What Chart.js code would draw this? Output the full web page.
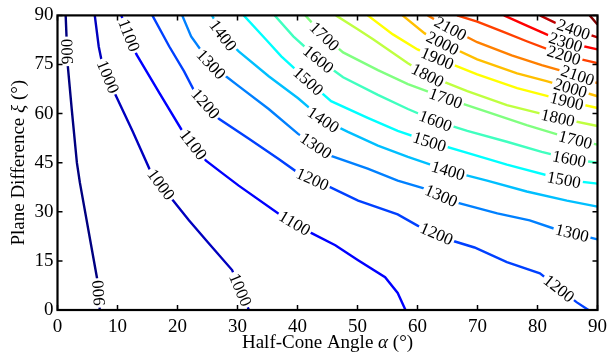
<!DOCTYPE html>
<html>
<head>
<meta charset="utf-8">
<script src="https://cdn.jsdelivr.net/npm/chart.js@4.4.1/dist/chart.umd.min.js"></script>
<style>
  html,body{margin:0;padding:0;background:#fff;}
  #wrap{width:613px;height:355px;}
</style>
</head>
<body>
<div id="wrap"><canvas id="c" width="613" height="355"></canvas></div>
<script>
// ==== DATA: contour lines as [half-cone angle, plane difference] in degrees ====
const xTicks = [0,10,20,30,40,50,60,70,80,90];
const yTicks = [0,15,30,45,60,75,90];

const c900  = [[1.36,90],[1.69,75.1],[2.4,60.8],[3.23,45],[3.73,38.9],[6.71,8.5],[7.04,0]];
const c1000 = [[6.21,90],[6.87,80.5],[7.37,76],[9.52,66.3],[12.5,54.7],[15.3,43.2],[18.6,35],[21.9,27.4],[25.2,20.4],[29.1,12.2],[31.9,0]];
const c1100 = [[10.63,90],[13.16,78.1],[16.97,66.3],[20.6,55.3],[24.75,45.6],[27.4,41.9],[30.2,38],[36.8,29.5],[42.1,23.7],[46.3,19.8],[50.1,15.2],[54.6,10],[56.7,5.2],[58,0]];
const c1200 = [[15.81,90],[18.63,80.5],[21.1,72.9],[22.8,66.9],[26.9,58.4],[31.9,52.3],[36.8,46.2],[40.1,41.9],[45.6,37.4],[50.1,33.4],[56.7,29.2],[60,25.8],[66.1,21],[69.5,19.1],[74.9,14.6],[80.4,11.2],[86.5,2.4],[88.5,0]];
const c1300 = [[20.78,90],[22.27,83.6],[25.58,75.1],[28.06,71.4],[30.2,68.4],[35.2,61.4],[40.1,53.8],[45.6,47.1],[51.7,43.2],[56.7,39.5],[61.2,37.1],[66.6,32.8],[73.3,29.5],[78.7,27.4],[82.7,24.9],[90,21.6]];
const c1400 = [[25.75,90],[27.57,83.9],[30.2,79],[35.2,71.4],[40.1,64.7],[44.3,58.1],[48.4,54.4],[53.4,50.2],[58.4,46.8],[65.1,42.6],[71.6,39.5],[78.2,36.2],[84.9,33.4],[90,31.6]];
const c1500 = [[31.04,90],[34.7,82.7],[37.3,77.5],[41.8,69.9],[45.6,63.8],[51.7,58.7],[56.7,54.7],[62,51.4],[68.3,48],[74.9,44.4],[84.4,39.8],[90,38.6]];
const c1600 = [[36.2,90],[39.3,83.6],[43.5,76.6],[47.6,71.1],[53.4,65.7],[58.4,61.4],[63,57.8],[68.3,54.7],[74.9,51.4],[80.7,48.3],[85.3,46.2],[90,45]];
const c1700 = [[41.3,90],[44.5,83.6],[47.6,78.7],[53.4,73.3],[58.4,69],[64.7,64.7],[71.6,60.5],[78.2,56.5],[86.3,52],[90,50.5]];
const c1800 = [[46.4,90],[50.1,85.7],[52.6,82.7],[58.4,75.4],[61.7,71.7],[68.3,66.9],[74.9,62.6],[83.4,58.7],[90,56.2]];
const c1900 = [[51.7,90],[55.9,84.2],[60,79.6],[63.3,76.9],[69.95,72],[76.6,67.8],[84.9,63.8],[90,61.7]];
const c2000 = [[57.5,90],[61.2,84.5],[64.2,81.5],[69.95,76.6],[76.6,72.3],[81.5,69.9],[85.5,67.8],[90,65.3]];
const c2100 = [[61.7,90],[65.5,86],[69.95,81.8],[75.7,77.8],[80.7,74.8],[86.7,71.7],[90,69.3]];
const c2200 = [[66.6,90],[69.95,88.1],[74.1,85.1],[78.2,82.1],[84.4,77.8],[90,75.4]];
const c2300 = [[74.4,90],[78.2,86.9],[81.5,84.2],[84.7,81.8],[90,79.6]];
const c2400 = [[80.4,90],[82.9,87.8],[86,85.7],[90,83.3]];
const c2500 = [[88.7,90],[90,87.2]];

// contour label anchors: [level, alpha, xi]
const contourLabels = [
  [900,1.57,79],[900,6.79,5.2],
  [1000,8.2,71.1],[1000,17.0,38.0],[1000,30.4,6.1],
  [1100,11.5,83.6],[1100,22.4,50.2],[1100,39.3,25.8],
  [1200,24.6,62.9],[1200,42.3,39.2],[1200,63.0,22.5],[1200,83.5,6.4],
  [1300,25.6,75.1],[1300,42.8,49.5],[1300,63.8,34.3],[1300,85.7,23.1],
  [1400,27.6,83.9],[1400,44.3,58.1],[1400,65.1,42.6],
  [1500,41.8,69.9],[1500,62.0,51.4],[1500,84.4,39.8],
  [1600,43.5,76.6],[1600,63.0,57.8],[1600,85.3,46.2],
  [1700,44.5,83.6],[1700,64.7,64.7],[1700,86.3,52.0],
  [1800,61.7,71.7],[1800,83.4,58.7],
  [1900,63.3,76.9],[1900,84.9,63.8],
  [2000,64.2,81.5],[2000,85.5,67.8],
  [2100,65.5,86.0],[2100,86.7,71.7],
  [2200,84.4,77.8],[2300,84.7,81.8],[2400,86.0,85.7]
];

const lines = {900:c900,1000:c1000,1100:c1100,1200:c1200,1300:c1300,1400:c1400,1500:c1500,1600:c1600,
  1700:c1700,1800:c1800,1900:c1900,2000:c2000,2100:c2100,2200:c2200,2300:c2300,2400:c2400,2500:c2500};

// jet colormap over the level range
function jet(v){
  const t = (v-900)/1600;
  const f = a => Math.round(255*Math.max(0, Math.min(1, 1.5-Math.abs(4*t-a))));
  return `rgb(${f(3)},${f(2)},${f(1)})`;
}

const SERIF = '"Liberation Serif","Times New Roman",serif';

// ==== contour labels (inline, rotated along the line) ====
const labelPlugin = {
  id:'clabels',
  afterDatasetsDraw(chart){
    const {ctx, scales:{x,y}} = chart;
    ctx.save();
    ctx.font = `17px ${SERIF}`;
    ctx.textAlign = 'center'; ctx.textBaseline = 'middle';
    contourLabels.forEach(([lev,lx,ly])=>{
      const pts = lines[lev].map(p=>[x.getPixelForValue(p[0]), y.getPixelForValue(p[1])]);
      const px = x.getPixelForValue(lx), py = y.getPixelForValue(ly);
      const cum=[0];
      for(let i=1;i<pts.length;i++) cum.push(cum[i-1]+Math.hypot(pts[i][0]-pts[i-1][0], pts[i][1]-pts[i-1][1]));
      let best=Infinity, bs=0, bp=pts[0];
      for(let i=0;i<pts.length-1;i++){
        const [ax,ay]=pts[i],[bx,by]=pts[i+1];
        const dx=bx-ax, dy=by-ay, L2=dx*dx+dy*dy;
        let t = L2 ? ((px-ax)*dx+(py-ay)*dy)/L2 : 0;
        t = Math.max(0,Math.min(1,t));
        const qx=ax+t*dx, qy=ay+t*dy, d=Math.hypot(px-qx,py-qy);
        if(d<best){ best=d; bs=cum[i]+t*Math.sqrt(L2); bp=[qx,qy]; }
      }
      const total = cum[cum.length-1];
      const at = s=>{
        s=Math.max(0,Math.min(total,s));
        for(let i=0;i<pts.length-1;i++){
          if(s<=cum[i+1]){
            const seg=cum[i+1]-cum[i]||1, t=(s-cum[i])/seg;
            return [pts[i][0]+t*(pts[i+1][0]-pts[i][0]), pts[i][1]+t*(pts[i+1][1]-pts[i][1])];
          }
        }
        return pts[pts.length-1];
      };
      const a=at(bs-12), b=at(bs+12);
      let ang = Math.atan2(b[1]-a[1], b[0]-a[0])*180/Math.PI;
      if(ang>90) ang-=180;
      if(ang<=-90) ang+=180;
      if(ang>75) ang-=180;
      const txt=String(lev), w=ctx.measureText(txt).width;
      ctx.save();
      ctx.translate(bp[0],bp[1]);
      ctx.rotate(ang*Math.PI/180);
      ctx.fillStyle='#fff';
      ctx.fillRect(-w/2-2,-5,w+4,10);
      ctx.fillStyle='#000';
      ctx.fillText(txt,0,1);
      ctx.restore();
    });
    ctx.restore();
  }
};

// ==== frame, inward ticks, axis titles ====
const framePlugin = {
  id:'frame',
  afterDraw(chart){
    const {ctx, chartArea:ca, scales:{x,y}} = chart;
    ctx.save();
    ctx.strokeStyle='#000'; ctx.lineWidth=1.5;
    ctx.beginPath();
    xTicks.forEach(v=>{
      const p=x.getPixelForValue(v);
      ctx.moveTo(p,ca.bottom); ctx.lineTo(p,ca.bottom-5);
      ctx.moveTo(p,ca.top); ctx.lineTo(p,ca.top+5);
    });
    yTicks.forEach(v=>{
      const p=y.getPixelForValue(v);
      ctx.moveTo(ca.left,p); ctx.lineTo(ca.left+5,p);
      ctx.moveTo(ca.right,p); ctx.lineTo(ca.right-5,p);
    });
    ctx.stroke();
    ctx.lineWidth=2.2;
    ctx.strokeRect(ca.left,ca.top,ca.right-ca.left,ca.bottom-ca.top);

    // titles with italic greek letters
    const drawParts=(parts,cx,cy)=>{
      let w=0;
      parts.forEach(p=>{ ctx.font=(p[1]?'italic ':'')+`19px ${SERIF}`; w+=ctx.measureText(p[0]).width; });
      let xx=cx-w/2;
      ctx.textAlign='left'; ctx.textBaseline='middle'; ctx.fillStyle='#000';
      parts.forEach(p=>{ ctx.font=(p[1]?'italic ':'')+`19px ${SERIF}`; ctx.fillText(p[0],xx,cy); xx+=ctx.measureText(p[0]).width; });
    };
    drawParts([['Half-Cone Angle ',0],['α',1],[' (°)',0]], (ca.left+ca.right)/2, 343);
    ctx.save();
    ctx.translate(19,(ca.top+ca.bottom)/2);
    ctx.rotate(-Math.PI/2);
    drawParts([['Plane Difference ',0],['ξ',1],[' (°)',0]], 0, 0);
    ctx.restore();
    ctx.restore();
  }
};

const datasets = Object.keys(lines).map(k=>({
  label:String(k),
  data: lines[k].map(p=>({x:p[0],y:p[1]})),
  showLine:true,
  borderColor: jet(+k),
  borderWidth: 2.4,
  pointRadius: 0,
  tension: 0,
  fill:false
}));

new Chart(document.getElementById('c'), {
  type:'scatter',
  data:{datasets},
  options:{
    responsive:false,
    animation:false,
    layout:{padding:{top:14,right:12,left:0,bottom:0}},
    plugins:{legend:{display:false}, tooltip:{enabled:false}},
    scales:{
      x:{
        type:'linear', min:0, max:90,
        afterFit: s=>{ s.height=45; },
        afterBuildTicks: s=>{ s.ticks = xTicks.map(v=>({value:v})); },
        grid:{display:false, drawTicks:false},
        border:{display:false},
        ticks:{color:'#000', font:{family:SERIF, size:19}, padding:6, maxRotation:0, autoSkip:false}
      },
      y:{
        type:'linear', min:0, max:90,
        afterFit: s=>{ s.width=57.5; },
        afterBuildTicks: s=>{ s.ticks = yTicks.map(v=>({value:v})); },
        grid:{display:false, drawTicks:false},
        border:{display:false},
        ticks:{color:'#000', font:{family:SERIF, size:19}, padding:4, autoSkip:false}
      }
    }
  },
  plugins:[labelPlugin, framePlugin]
});
</script>
</body>
</html>
